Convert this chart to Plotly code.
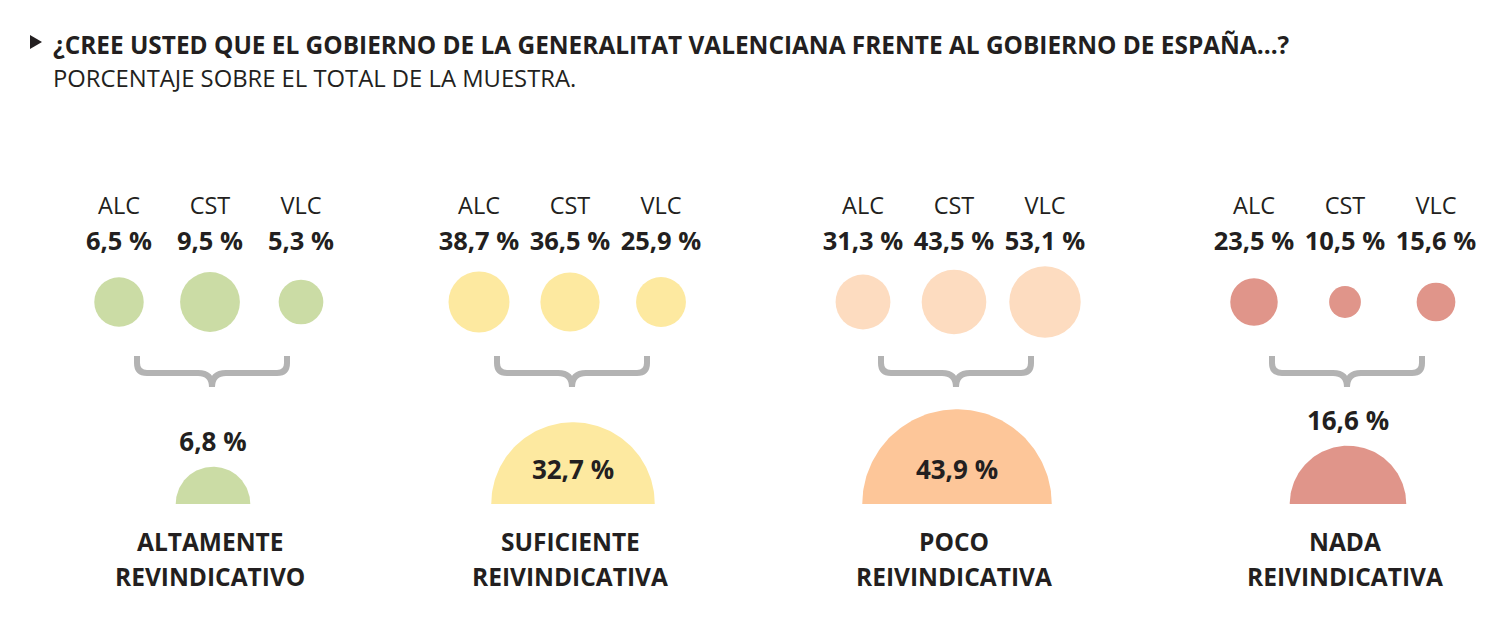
import numpy as np
import plotly.graph_objects as go

# ---------------- data ----------------
cities = ["ALC", "CST", "VLC"]
group_line1 = ["ALTAMENTE", "SUFICIENTE", "POCO", "NADA"]
group_line2 = ["REVINDICATIVO", "REIVINDICATIVA", "REIVINDICATIVA", "REIVINDICATIVA"]
city_values = [
    [6.5, 9.5, 5.3],
    [38.7, 36.5, 25.9],
    [31.3, 43.5, 53.1],
    [23.5, 10.5, 15.6],
]
total_values = [6.8, 32.7, 43.9, 16.6]

title = "¿CREE USTED QUE EL GOBIERNO DE LA GENERALITAT VALENCIANA FRENTE AL GOBIERNO DE ESPAÑA...?"
subtitle = "PORCENTAJE SOBRE EL TOTAL DE LA MUESTRA."

# ---------------- styles / layout ----------------
W, H = 1507, 635
group_x = [210, 570, 954, 1345]
city_dx = 91
circle_y = 302
circle_scale = [9.7, 4.9, 4.9, 4.9]     # px radius per sqrt(%)
semi_scale = 14.3
semi_base = 504
circle_colors = ["#cbdca5", "#fde9a0", "#fddcc0", "#e0958a"]
semi_colors = ["#cbdca5", "#fde9a0", "#fdc699", "#e0958a"]
brace_color = "#b3b3b3"
txt = "#231f20"
FONT = "Open Sans"

fmt = lambda v: f"{v:.1f}".replace(".", ",") + " %"

fig = go.Figure()
shapes = []
annotations = []

for g in range(4):
    cx = group_x[g]
    xs = [cx + (i - 1) * city_dx for i in range(3)]
    vals = city_values[g]
    sizes = [2 * circle_scale[g] * np.sqrt(v) for v in vals]
    fig.add_trace(go.Scatter(
        x=xs, y=[circle_y] * 3, mode="markers",
        marker=dict(size=sizes, color=circle_colors[g], opacity=1, line=dict(width=0)),
        hoverinfo="skip", showlegend=False))
    # city labels and values
    fig.add_trace(go.Scatter(
        x=xs, y=[208] * 3, mode="text", text=cities,
        textfont=dict(family=FONT, size=23.5, color=txt),
        hoverinfo="skip", showlegend=False))
    fig.add_trace(go.Scatter(
        x=xs, y=[244] * 3, mode="text", text=[f"<b>{fmt(v)}</b>" for v in vals],
        textfont=dict(family=FONT, size=25.5, color=txt),
        hoverinfo="skip", showlegend=False))

    # brace
    w = 75
    y0, y1, y2 = 356, 373, 387
    c = cx + 2
    path = (f"M {c-w},{y0} L {c-w},{y1-10} Q {c-w},{y1} {c-w+10},{y1} "
            f"L {c-14},{y1} Q {c},{y1} {c},{y2} Q {c},{y1} {c+14},{y1} "
            f"L {c+w-10},{y1} Q {c+w},{y1} {c+w},{y1-10} L {c+w},{y0}")
    shapes.append(dict(type="path", path=path, xref="x", yref="y",
                       line=dict(color=brace_color, width=6)))

    # semicircle for total
    r = semi_scale * np.sqrt(total_values[g])
    t = np.linspace(0, np.pi, 120)
    sx = cx + 3 + r * np.cos(t)
    sy = semi_base - r * np.sin(t)
    fig.add_trace(go.Scatter(
        x=list(sx) + [sx[0]], y=list(sy) + [sy[0]], mode="lines", fill="toself",
        fillcolor=semi_colors[g], line=dict(width=0, color=semi_colors[g]),
        hoverinfo="skip", showlegend=False))
    if r < 70:
        ly = semi_base - r - 22
    else:
        ly = semi_base - 32
    fig.add_trace(go.Scatter(
        x=[cx + 3], y=[ly], mode="text", text=[f"<b>{fmt(total_values[g])}</b>"],
        textfont=dict(family=FONT, size=26, color=txt),
        hoverinfo="skip", showlegend=False))

    # category label (two lines)
    for ln, yy in ((group_line1[g], 541), (group_line2[g], 576)):
        annotations.append(dict(x=cx, y=yy, xref="x", yref="y", text=f"<b>{ln}</b>",
                                showarrow=False, align="center",
                                font=dict(family=FONT, size=24.5, color=txt)))

# title
shapes.append(dict(type="path", path="M 30,35 L 42,42 L 30,49 Z", xref="x", yref="y",
                   fillcolor=txt, line=dict(width=0)))
annotations.append(dict(x=51, y=44, xref="x", yref="y", xanchor="left", text=f"<b>{title}</b>",
                        showarrow=False, font=dict(family=FONT, size=24.4, color=txt)))
annotations.append(dict(x=51, y=78, xref="x", yref="y", xanchor="left", text=subtitle,
                        showarrow=False, font=dict(family=FONT, size=23.8, color=txt)))

fig.update_layout(
    width=W, height=H, margin=dict(l=0, r=0, t=0, b=0),
    paper_bgcolor="white", plot_bgcolor="white",
    xaxis=dict(range=[0, W], visible=False, fixedrange=True),
    yaxis=dict(range=[H, 0], visible=False, fixedrange=True),
    shapes=shapes, annotations=annotations, showlegend=False,
)

fig.write_html("out.html", config={"displayModeBar": False},
               post_script="document.body.style.margin='0';document.body.style.overflow='hidden';")
